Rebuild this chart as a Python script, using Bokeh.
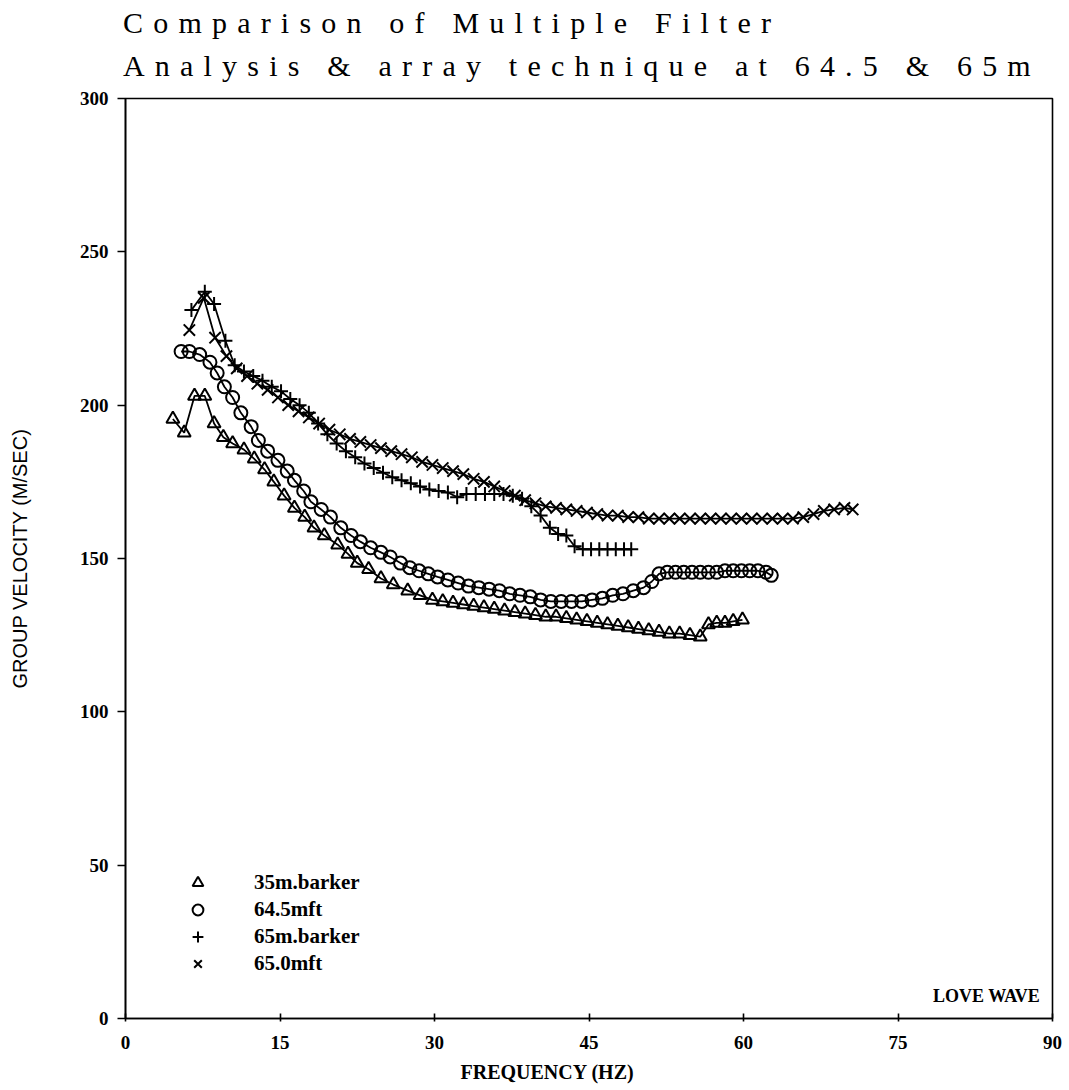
from bokeh.plotting import figure
from bokeh.models import Div, Label, Legend, LegendItem, FixedTicker, Range1d, Title
from bokeh.layouts import column
from bokeh.embed import file_html
from bokeh.resources import INLINE

title_lines = ["Comparison of Multiple Filter", "Analysis & array technique at 64.5 & 65m"]
x_label = "FREQUENCY (HZ)"
y_label = "GROUP VELOCITY (M/SEC)"
note = "LOVE WAVE"
x_ticks = [0, 15, 30, 45, 60, 75, 90]
y_ticks = [0, 50, 100, 150, 200, 250, 300]

series_names = ["35m.barker", "64.5mft", "65m.barker", "65.0mft"]

f_35_barker = [4.6, 5.7, 6.7, 7.7, 8.6, 9.5, 10.4, 11.5, 12.5, 13.5, 14.4, 15.4, 16.4, 17.4,
               18.3, 19.3, 20.6, 21.6, 22.5, 23.6, 24.8, 26.0, 27.4, 28.6, 29.8, 30.8, 31.8,
               32.8, 33.8, 34.8, 35.8, 36.8, 37.8, 38.8, 39.8, 40.8, 41.8, 42.8, 43.8, 44.8,
               45.8, 46.8, 47.8, 48.8, 49.8, 50.8, 51.8, 52.8, 53.8, 54.8, 55.8, 56.6, 57.4,
               58.2, 59.0, 59.9]
v_35_barker = [195.5, 191, 203, 203, 194, 189.5, 187.5, 185.5, 182.5, 179, 175, 170.5, 166.5,
               163.5, 160, 157.5, 154.5, 151.5, 148.5, 146.5, 143.5, 141.5, 139.5, 138, 136.5,
               136, 135.5, 135, 134.5, 134, 133.5, 133, 132.5, 132, 131.5, 131, 131, 130.5,
               130, 129.5, 129, 128.5, 128, 127.5, 127, 126.5, 126, 125.5, 125.5, 125, 124.5,
               128.5, 129, 129, 129.5, 130]

f_645_mft = [5.4, 6.2, 7.2, 8.2, 8.9, 9.6, 10.4, 11.2, 12.2, 12.9, 13.8, 14.8, 15.7, 16.4, 17.3,
             18.0, 19.0, 19.9, 20.9, 21.9, 22.8, 23.8, 24.8, 25.7, 26.7, 27.6, 28.5, 29.4, 30.3,
             31.3, 32.3, 33.3, 34.3, 35.3, 36.3, 37.3, 38.3, 39.3, 40.3, 41.3, 42.3, 43.3, 44.3,
             45.3, 46.3, 47.3, 48.3, 49.3, 50.3, 51.1, 51.8, 52.6, 53.4, 54.2, 55.0, 55.8, 56.6,
             57.4, 58.2, 59.0, 59.8, 60.6, 61.4, 62.2, 62.7]
v_645_mft = [217.5, 217.5, 216.5, 214, 210.5, 206, 202.5, 197.5, 193, 188.5, 185, 182, 178.5,
             175.5, 172, 168.5, 166, 163.5, 160, 157.5, 155.5, 153.5, 152, 150.5, 148.5, 147,
             146, 145, 144, 143, 142, 141, 140.5, 140, 139.5, 138.5, 138, 137.5, 136.5, 136,
             136, 136, 136, 136.5, 137, 138, 138.5, 139.5, 140.5, 142.5, 145, 145.5, 145.5,
             145.5, 145.5, 145.5, 145.5, 145.5, 146, 146, 146, 146, 146, 145.5, 144.5]

f_65_barker = [6.4, 7.7, 8.6, 9.7, 10.6, 11.5, 12.4, 13.3, 14.2, 15.1, 16.0, 16.9, 17.8, 18.7,
               19.6, 20.5, 21.4, 22.3, 23.2, 24.1, 25.0, 25.9, 26.8, 27.7, 28.6, 29.5, 30.4,
               31.3, 32.2, 33.1, 34.0, 34.9, 35.8, 36.7, 37.6, 38.5, 39.4, 40.3, 41.2, 42.0,
               42.8, 43.6, 44.4, 45.2, 46.0, 46.8, 47.6, 48.4, 49.1]
v_65_barker = [231, 237, 233, 221, 213, 211, 209.5, 208, 206, 204.5, 202, 200, 197.5, 194,
               190.5, 187.5, 185, 183, 181, 179.5, 178, 176.5, 175.5, 174.5, 173.5, 172.5, 172,
               171.5, 170, 171, 171, 171, 171, 171, 170.5, 169.5, 167, 164, 160, 158, 157.5,
               154, 153, 153, 153, 153, 153, 153, 153]

f_650_mft = [6.2, 7.6, 8.7, 9.8, 10.8, 11.8, 12.8, 13.8, 14.8, 15.8, 16.8, 17.8, 18.8, 19.8,
             20.8, 21.8, 22.8, 23.8, 24.8, 25.8, 26.8, 27.8, 28.8, 29.8, 30.8, 31.8, 32.8, 33.8,
             34.8, 35.8, 36.8, 37.8, 38.8, 39.8, 40.8, 41.8, 42.8, 43.8, 44.8, 45.8, 46.8, 47.8,
             48.8, 49.8, 50.8, 51.8, 52.8, 53.8, 54.8, 55.8, 56.8, 57.8, 58.8, 59.8, 60.8, 61.8,
             62.8, 63.8, 64.8, 65.8, 66.8, 67.8, 68.8, 69.8, 70.6]
v_650_mft = [224.5, 235, 222, 216, 212, 209.5, 207, 205, 202.5, 200, 198, 196, 194, 192,
             190.5, 189, 188, 187, 186, 185, 184, 183, 181.5, 180.5, 179.5, 178.5, 177.5, 176,
             175, 173.5, 172, 170.5, 169, 168, 167, 166.5, 166, 165.5, 165, 164.5, 164, 164,
             163.5, 163.5, 163, 163, 163, 163, 163, 163, 163, 163, 163, 163, 163, 163, 163,
             163, 163, 163.5, 164.5, 165.5, 166, 166.5, 166]

p = figure(frame_width=927, frame_height=920,
           x_range=Range1d(0, 90), y_range=Range1d(0, 300),
           output_backend="svg", toolbar_location=None,
           min_border_left=125, min_border_right=10, min_border_top=10, min_border_bottom=70,
           background_fill_color="white", border_fill_color="white")
p.grid.visible = False
p.outline_line_color = "black"
p.outline_line_width = 1.6

for ax in (p.xaxis[0], p.yaxis[0]):
    ax.axis_line_color = "black"
    ax.axis_line_width = 1.6
    ax.major_tick_line_color = "black"
    ax.major_tick_line_width = 1.6
    ax.minor_tick_line_color = None
    ax.major_label_text_font = "Liberation Serif"
    ax.major_label_text_font_style = "bold"
    ax.major_label_text_font_size = "19px"
    ax.major_label_text_color = "black"

p.xaxis.ticker = FixedTicker(ticks=x_ticks)
p.yaxis.ticker = FixedTicker(ticks=y_ticks)
p.xaxis.major_tick_in = 5
p.xaxis.major_tick_out = 3
p.xaxis.major_label_standoff = 14
p.yaxis.major_tick_in = 0
p.yaxis.major_tick_out = 8
p.yaxis.major_label_standoff = 9

p.yaxis.axis_label = y_label
p.yaxis.axis_label_text_font = "Liberation Sans"
p.yaxis.axis_label_text_font_style = "normal"
p.yaxis.axis_label_text_font_size = "20px"
p.yaxis.axis_label_text_color = "black"
p.yaxis.axis_label_standoff = 46

p.add_layout(Title(text=x_label, align="left", offset=335, standoff=14,
                   text_font="Liberation Serif", text_font_style="bold",
                   text_font_size="20px", text_color="black"), "below")

lw = 1.8
r_tri_l = p.line(f_35_barker, v_35_barker, line_color="black", line_width=lw)
r_tri = p.scatter(f_35_barker, v_35_barker, marker="triangle", size=13,
                  line_color="black", line_width=2, fill_alpha=0)
r_cir_l = p.line(f_645_mft, v_645_mft, line_color="black", line_width=lw)
r_cir = p.scatter(f_645_mft, v_645_mft, marker="circle", size=13,
                  line_color="black", line_width=2, fill_alpha=0)
r_plus_l = p.line(f_65_barker, v_65_barker, line_color="black", line_width=lw)
r_plus = p.scatter(f_65_barker, v_65_barker, marker="cross", size=14,
                   line_color="black", line_width=2)
r_x_l = p.line(f_650_mft, v_650_mft, line_color="black", line_width=lw)
r_x = p.scatter(f_650_mft, v_650_mft, marker="x", size=16,
                line_color="black", line_width=2)

legend = Legend(items=[LegendItem(label=series_names[0], renderers=[r_tri]),
                       LegendItem(label=series_names[1], renderers=[r_cir]),
                       LegendItem(label=series_names[2], renderers=[r_plus]),
                       LegendItem(label=series_names[3], renderers=[r_x])],
                location=(56, 41), padding=0, margin=0, spacing=0,
                glyph_width=33, glyph_height=27, label_height=27, label_standoff=40,
                border_line_alpha=0, background_fill_alpha=0,
                label_text_font="Liberation Serif", label_text_font_style="bold",
                label_text_font_size="21px", label_text_color="black")
p.add_layout(legend, "center")

p.add_layout(Label(x=88.8, y=7.5, text=note,
                   text_align="right", text_baseline="middle",
                   text_font="Liberation Serif", text_font_style="bold",
                   text_font_size="18px", text_color="black"))

title_html = ('<div style="font-family:\'Liberation Serif\',serif;font-size:30px;'
              'letter-spacing:10.2px;line-height:43px;color:#000;white-space:nowrap;'
              'position:relative;top:1px;left:123px;">'
              + title_lines[0].replace("&", "&amp;") + '<br>'
              + title_lines[1].replace("&", "&amp;") + '</div>')
title_div = Div(text=title_html, width=1060, height=88, margin=(0, 0, 0, 0))

layout = column(title_div, p, spacing=0)
open("out.html", "w").write(file_html(layout, INLINE))
